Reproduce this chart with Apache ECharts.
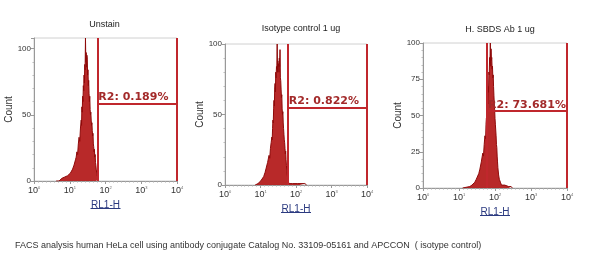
<!DOCTYPE html>
<html><head><meta charset="utf-8">
<script src="https://cdn.jsdelivr.net/npm/echarts@6/dist/echarts.min.js"></script>
<style>html,body{margin:0;padding:0;background:#fff}#c{width:600px;height:262px}</style>
</head><body><div id="c"></div>
<script>
// ---- data ----
const panelTitles = ['Unstain', 'Isotype control 1 ug', 'H. SBDS Ab 1 ug'];
const xTickExponents = [0, 1, 2, 3, 4];
const yMaxes = [108, 100, 100];
const yIntervals = [50, 50, 25];
const gateLabels = ['R2: 0.189%', 'R2: 0.822%', 'R2: 73.681%'];
const gateLow = [1.77, 1.77, 1.78];
const gateHigh = [4, 4, 4];
const gateLevel = [58.6, 54.6, 53];
const xAxisTitle = 'RL1-H';
const yAxisTitle = 'Count';
const caption = 'FACS analysis human HeLa cell using antibody conjugate Catalog No. 33109-05161 and APCCON  ( isotype control)';

// log10 of RL1-H channel vs count
const h1X = [0.62,0.66,0.70,0.74,0.78,0.82,0.86,0.90,0.94,0.98,1.02,1.05,1.08,1.10,1.12,1.14,1.16,1.18,1.20,1.22,1.24,1.26,1.28,1.30,1.32,1.33,1.34,1.35,1.36,1.37,1.38,1.39,1.40,1.41,1.42,1.43,1.44,1.45,1.46,1.47,1.48,1.49,1.50,1.51,1.52,1.53,1.54,1.55,1.56,1.57,1.58,1.59,1.60,1.61,1.62,1.63,1.64,1.65,1.66,1.67,1.68,1.69,1.70,1.71,1.72,1.73,1.74,1.75,1.76,1.77,1.78,1.79,1.81];
const h1Y = [0,1,0,1,2,1,3,2,4,3,6,5,9,8,12,11,16,18,22,20,28,33,30,40,46,42,56,52,64,60,72,68,80,74,88,84,108,90,97,86,95,92,80,84,72,76,66,60,64,54,50,52,46,42,44,38,34,36,28,26,22,24,18,20,14,12,9,8,5,4,3,1,0];
const h2X = [0.85,0.89,0.93,0.97,1.01,1.05,1.09,1.13,1.16,1.18,1.20,1.22,1.24,1.26,1.28,1.30,1.32,1.33,1.34,1.35,1.36,1.37,1.38,1.39,1.40,1.41,1.42,1.43,1.44,1.45,1.46,1.47,1.48,1.49,1.50,1.51,1.52,1.53,1.54,1.55,1.56,1.57,1.58,1.59,1.60,1.61,1.62,1.63,1.64,1.65,1.66,1.67,1.68,1.69,1.70,1.71,1.72,1.73,1.74,1.75,1.77,1.80,1.84,1.90,1.95,2.05,2.10,2.25,2.30];
const h2Y = [0,1,1,2,3,4,6,9,12,11,16,15,21,19,26,30,34,32,40,46,44,54,60,56,68,72,66,80,76,84,82,100,80,88,84,86,80,90,84,96,76,74,68,62,64,54,50,52,44,40,36,32,30,26,22,24,18,14,10,8,4,1,0,1,0,1,0,1,0];
const h3X = [1.10,1.12,1.15,1.30,1.36,1.40,1.44,1.48,1.52,1.55,1.58,1.60,1.62,1.64,1.66,1.68,1.70,1.72,1.74,1.75,1.76,1.77,1.78,1.79,1.80,1.81,1.82,1.83,1.84,1.85,1.86,1.87,1.88,1.89,1.90,1.91,1.92,1.93,1.94,1.95,1.96,1.97,1.98,1.99,2.00,2.01,2.02,2.03,2.04,2.05,2.06,2.07,2.08,2.10,2.12,2.15,2.18,2.22,2.27,2.32,2.38,2.45,2.48];
const h3Y = [0,1,0,1,2,3,4,6,7,10,13,12,18,17,24,22,30,36,34,44,48,46,56,60,58,70,66,80,78,90,86,100,84,96,88,90,82,84,76,78,70,64,58,54,48,44,40,36,30,28,22,18,14,9,6,4,2,1,2,1,1,1,0];
const histX = [h1X, h2X, h3X];
const histY = [h1Y, h2Y, h3Y];

// ---- layout ----
const grids = [
  {left: 34, top: 38, width: 143, height: 143},
  {left: 225, top: 44, width: 142, height: 141},
  {left: 423, top: 43, width: 144, height: 145}
];
const titleY = [15, 19, 20];
const gateColor = '#c0272d';
const histColor = '#8e0a0a';

const chart = echarts.init(document.getElementById('c'));
const option = {
  animation: false,
  backgroundColor: '#fff',
  title: [],
  grid: [], xAxis: [], yAxis: [], series: [], graphic: []
};
grids.forEach((g, i) => {
  option.grid.push({left: g.left, top: g.top, width: g.width, height: g.height,
    show: true, borderColor: '#d0d0d0', borderWidth: 1, containLabel: false});
  option.title.push({text: panelTitles[i], left: g.left + g.width / 2 + (i === 0 ? -6 : 0), top: titleY[i],
    textAlign: 'center',
    textStyle: {fontFamily: 'Liberation Sans, Arial', fontSize: 9, fontWeight: 'normal', color: '#222'}});
  option.xAxis.push({
    type: 'value', gridIndex: i, min: xTickExponents[0], max: xTickExponents[xTickExponents.length - 1], interval: 1,
    axisLine: {show: true, lineStyle: {color: '#999', width: 1}},
    axisTick: {show: true, length: 3, lineStyle: {color: '#999'}},
    minorTick: {show: true, splitNumber: 9, length: 1.5, lineStyle: {color: '#aaa'}},
    splitLine: {show: false},
    axisLabel: {
      margin: 5, color: '#333', fontFamily: 'Liberation Sans, Arial', fontSize: 9,
      formatter: v => '{b|10}{s|' + v + '}',
      rich: {b: {fontSize: 9, color: '#333', fontFamily: 'Liberation Sans, Arial'},
             s: {fontSize: 4, color: '#666', verticalAlign: 'top', padding: [0, 0, 6, 0]}}
    },
    name: xAxisTitle, nameLocation: 'middle', nameGap: 17,
    nameTextStyle: {color: '#2b3a80', fontFamily: 'Liberation Sans, Arial', fontSize: 10}
  });
  option.yAxis.push({
    type: 'value', gridIndex: i, min: 0, max: yMaxes[i], interval: yIntervals[i],
    axisLine: {show: true, lineStyle: {color: '#999', width: 1}},
    axisTick: {show: true, length: 3, lineStyle: {color: '#999'}},
    minorTick: {show: true, splitNumber: 5, length: 1.5, lineStyle: {color: '#bbb'}},
    splitLine: {show: false},
    axisLabel: {margin: 3, color: '#333', fontFamily: 'Liberation Sans, Arial', fontSize: 8,
      showMaxLabel: yMaxes[i] % yIntervals[i] === 0},
    name: yAxisTitle, nameLocation: 'middle', nameGap: i === 2 ? 20 : 19,
    nameTextStyle: {color: '#333', fontFamily: 'Liberation Sans, Arial', fontSize: 10}
  });
  option.series.push({
    type: 'line', xAxisIndex: i, yAxisIndex: i, symbol: 'none',
    data: histX[i].map((x, k) => [x, histY[i][k]]),
    lineStyle: {color: histColor, width: 1},
    areaStyle: {color: '#b01212', opacity: 0.9},
    z: 2,
    markLine: {
      symbol: 'none', silent: true, z: 5,
      lineStyle: {color: gateColor, width: 2, type: 'solid'},
      label: {show: false},
      data: [
        {xAxis: gateLow[i]},
        {xAxis: gateHigh[i]},
        [{coord: [gateLow[i], gateLevel[i]],
          label: {show: true, position: 'insideStartTop', formatter: gateLabels[i], distance: 1,
            color: '#a32a2a', fontFamily: 'DejaVu Sans, Verdana', fontSize: 11, fontWeight: 'bold'}},
         {coord: [gateHigh[i], gateLevel[i]]}]
      ]
    }
  });
  // underline for axis name
  option.graphic.push({type: 'line', silent: true,
    shape: {x1: g.left + g.width / 2 - 15, y1: g.top + g.height + 27.5, x2: g.left + g.width / 2 + 15, y2: g.top + g.height + 27.5},
    style: {stroke: '#2b3a80', lineWidth: 1}});
});
option.title.push({text: caption, left: 10, top: 236,
  textStyle: {fontFamily: 'Liberation Sans, Arial', fontSize: 9, fontWeight: 'normal', color: '#333'}});
chart.setOption(option);
</script></body></html>
